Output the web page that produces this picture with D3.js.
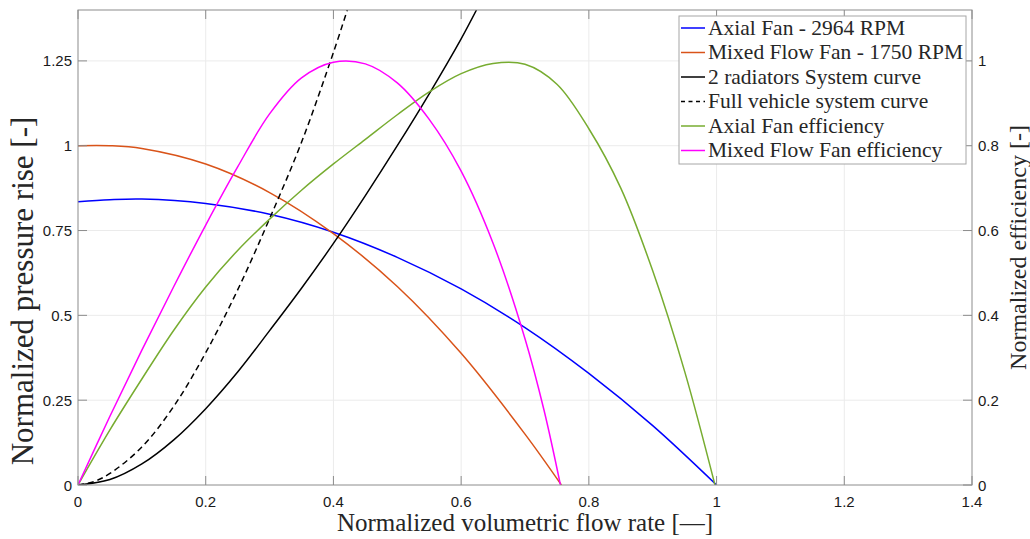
<!DOCTYPE html>
<html>
<head>
<meta charset="utf-8">
<script src="https://cdn.jsdelivr.net/npm/d3@7"></script>
<style>
  html, body { margin: 0; padding: 0; background: #fff; }
  svg { display: block; }
</style>
</head>
<body>
<svg id="chart" width="1030" height="539"></svg>
<script>
// ---------------- DATA ----------------
const flowTicks = [0, 0.2, 0.4, 0.6, 0.8, 1, 1.2, 1.4];
const flowTickLabels = ["0", "0.2", "0.4", "0.6", "0.8", "1", "1.2", "1.4"];
const pressureTicks = [0, 0.25, 0.5, 0.75, 1, 1.25];
const pressureTickLabels = ["0", "0.25", "0.5", "0.75", "1", "1.25"];
const efficiencyTicks = [0, 0.2, 0.4, 0.6, 0.8, 1];
const efficiencyTickLabels = ["0", "0.2", "0.4", "0.6", "0.8", "1"];

const axialFanFlow     = [0, 0.05, 0.1, 0.2, 0.3, 0.4, 0.5, 0.6, 0.7, 0.8, 0.9, 1.0];
const axialFanPressure = [0.835, 0.841, 0.843, 0.830, 0.798, 0.745, 0.671, 0.578, 0.464, 0.329, 0.175, 0];

const mixedFanFlow     = [0, 0.05, 0.1, 0.2, 0.3, 0.4, 0.5, 0.6, 0.7, 0.757];
const mixedFanPressure = [1.0, 1.0, 0.992, 0.946, 0.862, 0.741, 0.585, 0.388, 0.150, 0];

const radiatorsFlow     = [0, 0.05, 0.1, 0.15, 0.2, 0.25, 0.3, 0.35, 0.4, 0.45, 0.5, 0.55, 0.6, 0.624];
const radiatorsPressure = [0, 0.016, 0.062, 0.133, 0.225, 0.333, 0.455, 0.580, 0.712, 0.853, 1.0, 1.153, 1.315, 1.4];

const vehicleFlow     = [0, 0.025, 0.05, 0.1, 0.15, 0.2, 0.25, 0.3, 0.35, 0.4, 0.4217];
const vehiclePressure = [0, 0.010, 0.034, 0.112, 0.232, 0.39, 0.575, 0.785, 1.01, 1.275, 1.4];

const axialEffFlow = [0, 0.05, 0.1, 0.15, 0.2, 0.25, 0.3, 0.35, 0.4, 0.45, 0.5, 0.55, 0.6, 0.65, 0.7, 0.75, 0.8, 0.85, 0.9, 0.95, 0.9975];
const axialEff     = [0, 0.13, 0.25, 0.365, 0.467, 0.553, 0.627, 0.695, 0.757, 0.815, 0.873, 0.927, 0.970, 0.994, 0.992, 0.945, 0.840, 0.700, 0.505, 0.268, 0];

const mixedEffFlow = [0, 0.05, 0.1, 0.15, 0.2, 0.25, 0.3, 0.35, 0.4, 0.45, 0.5, 0.55, 0.6, 0.65, 0.7, 0.73, 0.7555];
const mixedEff     = [0, 0.162, 0.318, 0.468, 0.613, 0.75, 0.875, 0.960, 0.997, 0.993, 0.948, 0.862, 0.74, 0.57, 0.345, 0.175, 0];

const seriesNames = ["Axial Fan - 2964 RPM", "Mixed Flow Fan - 1750 RPM", "2 radiators System curve",
                     "Full vehicle system curve", "Axial Fan efficiency", "Mixed Flow Fan efficiency"];

// ---------------- LAYOUT ----------------
const plot = { left: 78, right: 972, top: 10, bottom: 485 };
const svg = d3.select("#chart");

const x = d3.scaleLinear().domain([0, 1.4]).range([plot.left, plot.right]);
const yL = d3.scaleLinear().domain([0, 1.4]).range([plot.bottom, plot.top]);
const yR = d3.scaleLinear().domain([0, 1.12]).range([plot.bottom, plot.top]);

const axisColor = "#8c8c8c";
const gridColor = "#ebebeb";
const tickFont = "Liberation Sans, Arial, sans-serif";
const serifFont = "Liberation Serif, Times New Roman, serif";

// grid
const grid = svg.append("g");
grid.selectAll("line.gx").data(flowTicks.slice(1, -1)).join("line")
  .attr("x1", d => x(d)).attr("x2", d => x(d))
  .attr("y1", plot.top).attr("y2", plot.bottom)
  .attr("stroke", gridColor).attr("stroke-width", 1);
grid.selectAll("line.gy").data(pressureTicks.slice(1)).join("line")
  .attr("y1", d => yL(d)).attr("y2", d => yL(d))
  .attr("x1", plot.left).attr("x2", plot.right)
  .attr("stroke", gridColor).attr("stroke-width", 1);

// clip
svg.append("clipPath").attr("id", "clip").append("rect")
  .attr("x", plot.left).attr("y", plot.top)
  .attr("width", plot.right - plot.left).attr("height", plot.bottom - plot.top);

const curves = svg.append("g").attr("clip-path", "url(#clip)");
function zip(a, b) { return a.map((v, i) => [v, b[i]]); }
const curveType = d3.curveCatmullRom.alpha(0.5);
const lineL = d3.line().x(d => x(d[0])).y(d => yL(d[1])).curve(curveType);
const lineR = d3.line().x(d => x(d[0])).y(d => yR(d[1])).curve(curveType);

const series = [
  { name: seriesNames[0], data: zip(axialFanFlow, axialFanPressure), gen: lineL, color: "#0000ff", dash: null },
  { name: seriesNames[1], data: zip(mixedFanFlow, mixedFanPressure), gen: lineL, color: "#d95319", dash: null },
  { name: seriesNames[2], data: zip(radiatorsFlow, radiatorsPressure), gen: lineL, color: "#000000", dash: null },
  { name: seriesNames[3], data: zip(vehicleFlow, vehiclePressure), gen: lineL, color: "#000000", dash: "6,4" },
  { name: seriesNames[4], data: zip(axialEffFlow, axialEff), gen: lineR, color: "#77ac30", dash: null },
  { name: seriesNames[5], data: zip(mixedEffFlow, mixedEff), gen: lineR, color: "#ff00ff", dash: null }
];

curves.selectAll("path").data(series).join("path")
  .attr("d", s => s.gen(s.data))
  .attr("fill", "none")
  .attr("stroke", s => s.color)
  .attr("stroke-width", 1.5)
  .attr("stroke-dasharray", s => s.dash);

// axes frame
const frame = svg.append("g").attr("stroke", axisColor).attr("stroke-width", 1).attr("fill", "none");
frame.append("rect").attr("x", plot.left).attr("y", plot.top)
  .attr("width", plot.right - plot.left).attr("height", plot.bottom - plot.top);

const tickLen = 9;
frame.selectAll("line.bt").data(flowTicks).join("line").attr("class", "bt")
  .attr("x1", d => x(d)).attr("x2", d => x(d))
  .attr("y1", plot.bottom).attr("y2", plot.bottom - tickLen);
frame.selectAll("line.tt").data(flowTicks).join("line").attr("class", "tt")
  .attr("x1", d => x(d)).attr("x2", d => x(d))
  .attr("y1", plot.top).attr("y2", plot.top + tickLen);
frame.selectAll("line.lt").data(pressureTicks).join("line").attr("class", "lt")
  .attr("x1", plot.left).attr("x2", plot.left + tickLen)
  .attr("y1", d => yL(d)).attr("y2", d => yL(d));
frame.selectAll("line.rt").data(efficiencyTicks).join("line").attr("class", "rt")
  .attr("x1", plot.right).attr("x2", plot.right - tickLen)
  .attr("y1", d => yR(d)).attr("y2", d => yR(d));

// tick labels
const labels = svg.append("g").attr("font-family", tickFont).attr("font-size", 15).attr("fill", "#1a1a1a");
labels.selectAll("text.xl").data(flowTicks).join("text").attr("class", "xl")
  .attr("x", d => x(d)).attr("y", plot.bottom + 22)
  .attr("text-anchor", "middle").text((d, i) => flowTickLabels[i]);
labels.selectAll("text.yl").data(pressureTicks).join("text").attr("class", "yl")
  .attr("x", plot.left - 6).attr("y", d => yL(d) + 5.5)
  .attr("text-anchor", "end").text((d, i) => pressureTickLabels[i]);
labels.selectAll("text.yr").data(efficiencyTicks).join("text").attr("class", "yr")
  .attr("x", plot.right + 6).attr("y", d => yR(d) + 5.5)
  .attr("text-anchor", "start").text((d, i) => efficiencyTickLabels[i]);

// axis titles
svg.append("text").attr("font-family", serifFont).attr("font-size", 25).attr("fill", "#262626")
  .attr("x", (plot.left + plot.right) / 2).attr("y", 531).attr("text-anchor", "middle")
  .text("Normalized volumetric flow rate [\u2014]");
svg.append("text").attr("font-family", serifFont).attr("font-size", 31).attr("fill", "#262626")
  .attr("transform", `translate(33,291) rotate(-90)`)
  .attr("text-anchor", "middle").text("Normalized pressure rise [-]");
svg.append("text").attr("font-family", serifFont).attr("font-size", 24).attr("fill", "#262626")
  .attr("transform", `translate(1026,${(plot.top + plot.bottom) / 2}) rotate(-90)`)
  .attr("text-anchor", "middle").text("Normalized efficiency [-]");

// legend
const leg = svg.append("g");
const legBox = { x: 679, y: 16, w: 287, h: 148 };
leg.append("rect").attr("x", legBox.x).attr("y", legBox.y).attr("width", legBox.w).attr("height", legBox.h)
  .attr("fill", "#fff").attr("stroke", "#a6a6a6").attr("stroke-width", 1);
const rowH = 24.5;
const rows = leg.selectAll("g.row").data(series).join("g").attr("class", "row")
  .attr("transform", (d, i) => `translate(${legBox.x}, ${legBox.y + 12 + i * rowH})`);
rows.append("line").attr("x1", 2).attr("x2", 26).attr("y1", 0).attr("y2", 0)
  .attr("stroke", d => d.color).attr("stroke-width", 1.5)
  .attr("stroke-dasharray", d => d.dash ? "4,3.5" : null);
rows.append("text").attr("x", 29).attr("y", 6.5)
  .attr("font-family", serifFont).attr("font-size", 21.5).attr("fill", "#262626")
  .text(d => d.name);
</script>
</body>
</html>
